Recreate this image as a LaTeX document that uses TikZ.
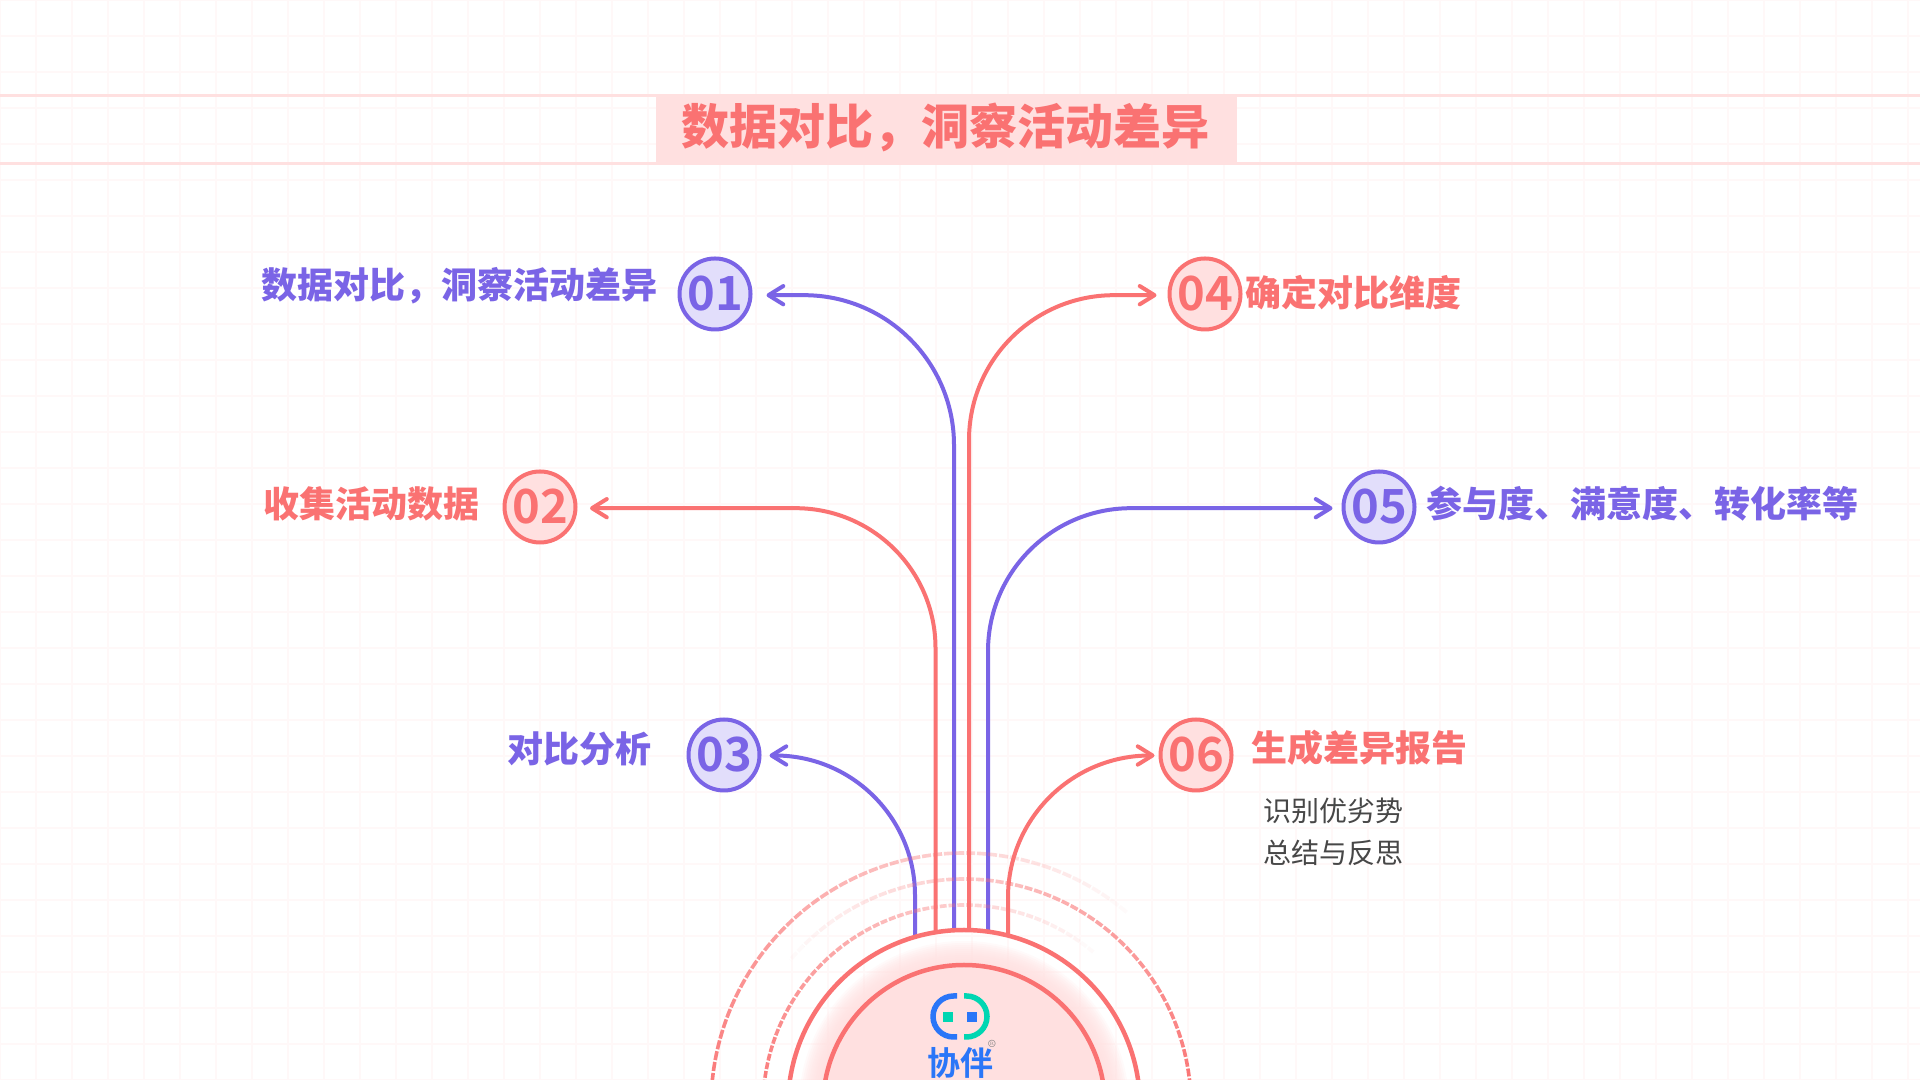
\documentclass[tikz,border=0pt]{standalone}
\usepackage{fontspec}
\usetikzlibrary{arrows.meta}
\newfontfamily\cjkheavy{Noto Sans CJK SC}[UprightFont=* Black]
\newfontfamily\cjkbold{Noto Sans CJK SC}[UprightFont=* Bold]
\newfontfamily\cjk{Noto Sans CJK SC}
\definecolor{coral}{HTML}{FA7272}
\definecolor{blush}{HTML}{FFE0E0}
\definecolor{violet}{HTML}{7A64E6}
\definecolor{lilac}{HTML}{E2DEFB}
\definecolor{logoblue}{HTML}{2A76F8}
\definecolor{logogreen}{HTML}{00D6B2}
\definecolor{gridpink}{HTML}{FFF8F8}
\tikzset{
	>={Straight Barb[round,length=4.2pt,width=5.2pt]},
	gridline/.style={draw=gridpink,line width=.012cm},
	bandline/.style={draw=blush,line width=.03cm},
	ringline/.style={draw=coral,line width=.036cm},
	archline/.style={draw=coral,line width=.045cm},
	coralline/.style={draw=coral,line width=.04cm,->},
	violetline/.style={draw=violet,line width=.04cm,->},
	coraldot/.style={circle,draw=coral,fill=blush,line width=.04cm,minimum size=.71cm,inner sep=0,outer sep=0,text=coral,font=\cjkbold\fontsize{13.4}{14}\selectfont},
	violetdot/.style={circle,draw=violet,fill=lilac,line width=.04cm,minimum size=.71cm,inner sep=0,outer sep=0,text=violet,font=\cjkbold\fontsize{13.4}{14}\selectfont},
	coraltext/.style={anchor=west,inner sep=0,text=coral,font=\cjkheavy\fontsize{10.24}{12}\selectfont},
	violettext/.style={anchor=west,inner sep=0,text=violet,font=\cjkheavy\fontsize{10.24}{12}\selectfont},
}
\begin{document}
\begin{tikzpicture}
	\useasboundingbox (0,0) rectangle (19.2,10.8);
	\clip (0,0) rectangle (19.2,10.8);
	\fill[white] (0,0) rectangle (19.2,10.8);
	\draw[gridline] (0,0) grid[step=.36] (19.2,10.8);
	% title band
	\draw[bandline] (0,9.84) -- (19.2,9.84);
	\draw[bandline] (0,9.165) -- (19.2,9.165);
	\node[fill=blush,text=coral,minimum width=5.81cm,minimum height=.69cm,inner sep=0,font=\cjkheavy\fontsize{13.66}{15}\selectfont] (title) at (9.465,9.505) {\raisebox{.024cm}[\height][\depth]{数据对比，洞察活动差异\kern.024cm}};
	% numbered circles
	\node[violetdot] (n01) at (7.15,7.86) {01};
	\node[coraldot] (n02) at (5.40,5.73) {02};
	\node[violetdot] (n03) at (7.24,3.25) {03};
	\node[coraldot] (n04) at (12.05,7.86) {04};
	\node[violetdot] (n05) at (13.79,5.73) {05};
	\node[coraldot] (n06) at (11.96,3.25) {06};
	% labels
	\node[violettext] (lab01) at (2.61,7.94) {数据对比，洞察活动差异};
	\node[coraltext] (lab02) at (2.63,5.76) {收集活动数据};
	\node[violettext] (lab03) at (5.065,3.31) {对比分析};
	\node[coraltext] (lab04) at (12.45,7.87) {确定对比维度};
	\node[violettext] (lab05) at (14.26,5.76) {参与度、满意度、转化率等};
	\node[coraltext] (lab06) at (12.505,3.32) {生成差异报告};
	\node[anchor=west,inner sep=0,align=left,text=black!72,font=\cjk\fontsize{7.97}{11.95}\selectfont] (lab07) at (12.63,2.48) {识别优劣势\\总结与反思};
	% feet of the connectors, on the arch
	\coordinate (base01) at (9.54,1.50);
	\coordinate (base02) at (9.355,1.48);
	\coordinate (base03) at (9.15,1.43);
	\coordinate (base04) at (9.69,1.50);
	\coordinate (base05) at (9.88,1.49);
	\coordinate (base06) at (10.08,1.44);
	\draw[violetline,rounded corners=1.5cm,shorten >=.16cm] (base01) |- ([yshift=-.012cm]n01.east);
	\draw[coralline,rounded corners=1.4cm,shorten >=.145cm] (base02) |- ([yshift=-.012cm]n02.east);
	\draw[violetline,rounded corners=1.4cm,shorten >=.10cm] (base03) |- ([yshift=-.005cm]n03.east);
	\draw[coralline,rounded corners=1.45cm,shorten >=.13cm] (base04) |- ([yshift=-.012cm]n04.west);
	\draw[violetline,rounded corners=1.43cm,shorten >=.11cm] (base05) |- ([yshift=-.012cm]n05.west);
	\draw[coralline,rounded corners=1.42cm,shorten >=.06cm] (base06) |- ([yshift=-.005cm]n06.west);
	% rings and hub
	\coordinate (hub) at (9.64,-.26);
	\foreach \r/\m/\n in {2.53/.00736/-.331,2.27/-.00709/.993,2.01/.00736/-.331}
		\foreach \a in {5,10,...,175} {
			\pgfmathsetmacro\o{max(0,min(1,\m*\a+(\n)))}
			\pgfmathsetmacro\len{\r*.0436-.02}
			\draw[ringline,opacity=\o,dash pattern=on \len cm off .02cm] (hub) ++(\a:\r) arc[start angle=\a,delta angle=5,radius=\r];
		}
	\foreach \r in {1.41,1.43,...,1.66}
		\fill[blush,opacity=.16] (hub) circle (\r);
	\fill[blush] (hub) circle (1.41);
	\draw[archline] (hub) circle (1.76);
	\draw[archline] (hub) circle (1.41);
	% logo
	\draw[logoblue,line width=.055cm] (9.57,.84) -- (9.535,.84) arc[start angle=90,delta angle=180,radius=.205] -- (9.57,.43);
	\draw[logogreen,line width=.055cm] (9.64,.84) -- (9.665,.84) arc[start angle=90,delta angle=-180,radius=.205] -- (9.64,.43);
	\fill[logogreen] (9.43,.58) rectangle (9.53,.68);
	\fill[logoblue] (9.67,.58) rectangle (9.77,.68);
	\node[inner sep=0,text=logoblue,font=\cjkbold\fontsize{9.39}{10}\selectfont] (brand) at (9.605,.17) {协伴};
	\node[inner sep=0,text=black!50,font=\fontsize{3}{3}\selectfont] (mark) at (9.92,.36) {®};
\end{tikzpicture}
\end{document}
